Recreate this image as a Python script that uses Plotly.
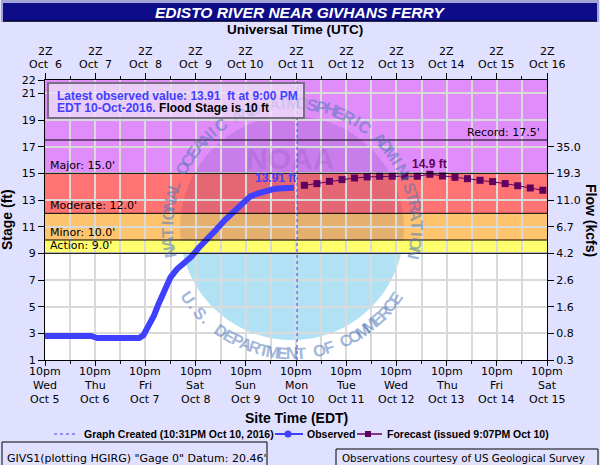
import math
import plotly.graph_objs as go

# observed stage (ft), site time EDT
obs_time = ['2016-10-05 22:00', '2016-10-06 10:00', '2016-10-06 20:00', '2016-10-06 23:00',
            '2016-10-07 10:00', '2016-10-07 19:00', '2016-10-07 21:00', '2016-10-07 23:00',
            '2016-10-08 00:00', '2016-10-08 02:00', '2016-10-08 04:00', '2016-10-08 06:00',
            '2016-10-08 08:00', '2016-10-08 10:00', '2016-10-08 13:00', '2016-10-08 16:00',
            '2016-10-08 20:00', '2016-10-09 00:00', '2016-10-09 04:00', '2016-10-09 08:00',
            '2016-10-09 12:00', '2016-10-09 16:00', '2016-10-09 20:00', '2016-10-10 00:00',
            '2016-10-10 04:00', '2016-10-10 08:00', '2016-10-10 12:00', '2016-10-10 16:00',
            '2016-10-10 21:00']
obs_stage = [2.8, 2.8, 2.8, 2.65, 2.65, 2.65, 2.85, 3.4, 3.75, 4.3, 5.1, 5.8, 6.6, 7.2,
             7.8, 8.15, 8.75, 9.5, 10.1, 10.8, 11.5, 12.1, 12.7, 13.25, 13.5, 13.7, 13.85,
             13.88, 13.91]

# forecast (issued 9:07PM Oct 10), 6-hourly
fcst_time = ['2016-10-11 02:00', '2016-10-11 08:00', '2016-10-11 14:00', '2016-10-11 20:00',
             '2016-10-12 02:00', '2016-10-12 08:00', '2016-10-12 14:00', '2016-10-12 20:00',
             '2016-10-13 02:00', '2016-10-13 08:00', '2016-10-13 14:00', '2016-10-13 20:00',
             '2016-10-14 02:00', '2016-10-14 08:00', '2016-10-14 14:00', '2016-10-14 20:00',
             '2016-10-15 02:00', '2016-10-15 08:00', '2016-10-15 14:00', '2016-10-15 20:00']
fcst_stage = [14.1, 14.23, 14.4, 14.53, 14.65, 14.73, 14.78, 14.78, 14.78, 14.78, 14.93,
              14.8, 14.7, 14.6, 14.48, 14.38, 14.23, 14.07, 13.9, 13.73]

graph_created = '2016-10-10 22:31'
x_range = ['2016-10-05 22:00', '2016-10-15 22:00']

site_tick_vals = ['2016-10-05 22:00', '2016-10-06 22:00', '2016-10-07 22:00', '2016-10-08 22:00',
                  '2016-10-09 22:00', '2016-10-10 22:00', '2016-10-11 22:00', '2016-10-12 22:00',
                  '2016-10-13 22:00', '2016-10-14 22:00', '2016-10-15 22:00']
site_hour = ['10pm'] * 11
site_day = ['Wed', 'Thu', 'Fri', 'Sat', 'Sun', 'Mon', 'Tue', 'Wed', 'Thu', 'Fri', 'Sat']
site_date = ['Oct 5', 'Oct 6', 'Oct 7', 'Oct 8', 'Oct 9', 'Oct 10', 'Oct 11', 'Oct 12',
             'Oct 13', 'Oct 14', 'Oct 15']
utc_hour = ['2Z'] * 11
utc_date = ['Oct\u00a0\u00a06', 'Oct\u00a0\u00a07', 'Oct\u00a0\u00a08', 'Oct\u00a0\u00a09',
            'Oct 10', 'Oct 11', 'Oct 12', 'Oct 13', 'Oct 14', 'Oct 15', 'Oct 16']

stage_ticks = [1, 3, 5, 7, 9, 11, 13, 15, 17, 19, 21, 22]
flow_ticks = [1, 3, 5, 7, 9, 11, 13, 15, 17]
flow_text = ['0.3', '0.8', '1.6', '2.6', '4.2', '6.7', '11.0', '19.3', '35.0']

# flood categories
cat_names = ['Action', 'Minor', 'Moderate', 'Major']
cat_low = [9.0, 10.0, 12.0, 15.0]
cat_high = [10.0, 12.0, 15.0, 22.0]
cat_colors = ['#FFFF6E', '#FFC46E', '#FF7373', '#E08CFA']
record_stage = 17.5
flood_stage = 10

BLUE = '#4040FF'
PURPLE = '#600060'
TICKFONT = dict(family='DejaVu Sans', size=11, color='black')
BOLD = 'Liberation Sans'

# plot area in pixels: x 45..547, y 80..360
L, R, T, B = 45, 547, 80, 360


def px(x):
    return (x - L) / (R - L)


def py(y):
    return (B - y) / (B - T)


def paper_text(x, y, text, size=11, color='black', family='DejaVu Sans', **kw):
    kw.setdefault('xanchor', 'center')
    kw.setdefault('yanchor', 'middle')
    return dict(xref='paper', yref='paper', x=px(x), y=py(y), text=text, showarrow=False,
                font=dict(family=family, size=size, color=color), **kw)


def date_label(x, y, text):
    return dict(xref='x', yref='paper', x=x, y=py(y), text=text, showarrow=False,
                xanchor='center', yanchor='middle', font=TICKFONT)


def arc_path(cx, cy, r, a0, a1, n=60):
    pts = []
    for i in range(n + 1):
        a = math.radians(a0 + (a1 - a0) * i / n)
        pts.append((px(cx + r * math.cos(a)), py(cy - r * math.sin(a))))
    return 'M ' + ' L '.join(f'{a:.4f},{b:.4f}' for a, b in pts) + ' Z'


fig = go.Figure()

fig.add_trace(go.Scatter(x=obs_time, y=obs_stage, mode='lines', name='Observed',
                         line=dict(color=BLUE, width=6), hoverinfo='skip'))
fig.add_trace(go.Scatter(x=fcst_time, y=fcst_stage, mode='lines+markers', name='Forecast',
                         line=dict(color=PURPLE, width=1),
                         marker=dict(symbol='square', size=7, color=PURPLE), hoverinfo='skip'))
# carries the UTC and flow axes
fig.add_trace(go.Scatter(x=fcst_time, y=fcst_stage, xaxis='x2', yaxis='y2', mode='markers',
                         marker=dict(opacity=0), hoverinfo='skip', showlegend=False))

shapes = []
for lo, hi, col in zip(cat_low, cat_high, cat_colors):
    shapes.append(dict(type='rect', xref='paper', yref='y', x0=0, x1=1, y0=lo, y1=hi,
                       fillcolor=col, line=dict(width=0), layer='below'))

# NOAA watermark
cx, cy, rad = 292, 228, 112
shapes.append(dict(type='path', xref='paper', yref='paper', layer='below',
                   path=arc_path(cx, cy, rad, -6.7, 186.7),
                   fillcolor='rgba(20,10,120,0.11)', line=dict(width=0)))
shapes.append(dict(type='path', xref='paper', yref='paper', layer='below',
                   path=arc_path(cx, cy, rad, 192.9, 347.1),
                   fillcolor='rgba(100,195,235,0.5)', line=dict(width=0)))

for lvl in cat_low + [record_stage]:
    shapes.append(dict(type='line', xref='paper', yref='y', x0=0, x1=1, y0=lvl, y1=lvl,
                       line=dict(color='black', width=1)))

shapes.append(dict(type='line', xref='x', yref='paper', x0=graph_created, x1=graph_created,
                   y0=0, y1=1, line=dict(color=BLUE, width=1, dash='3px,3px')))

# title bar
shapes.append(dict(type='rect', xref='paper', yref='paper', x0=px(1), x1=px(599), y0=py(0), y1=py(22),
                   fillcolor='#A4A4D4', line=dict(width=0)))
shapes.append(dict(type='rect', xref='paper', yref='paper', x0=px(3), x1=px(597), y0=py(3), y1=py(21),
                   fillcolor='#0D0D8A', line=dict(width=0)))
shapes.append(dict(type='line', xref='paper', yref='paper', x0=px(3), x1=px(597), y0=py(21), y1=py(21),
                   line=dict(color='#000030', width=1.5)))

# latest value box
box = (48, 304, 83, 118)
shapes.append(dict(type='rect', xref='paper', yref='paper', x0=px(box[0]), x1=px(box[1]),
                   y0=py(box[2]), y1=py(box[3]),
                   fillcolor='rgba(236,226,246,0.75)', line=dict(color='#7A6E86', width=2)))

# bottom legend samples
ly = 434
shapes.append(dict(type='line', xref='paper', yref='paper', x0=px(54), x1=px(78), y0=py(ly), y1=py(ly),
                   line=dict(color=BLUE, width=1, dash='3px,3px')))
shapes.append(dict(type='line', xref='paper', yref='paper', x0=px(275), x1=px(303), y0=py(ly), y1=py(ly),
                   line=dict(color=BLUE, width=2)))
shapes.append(dict(type='circle', xref='paper', yref='paper', x0=px(284.5), x1=px(291.5),
                   y0=py(ly + 3.5), y1=py(ly - 3.5), fillcolor=BLUE, line=dict(width=0)))
shapes.append(dict(type='line', xref='paper', yref='paper', x0=px(357), x1=px(382), y0=py(ly), y1=py(ly),
                   line=dict(color=PURPLE, width=1.5)))
shapes.append(dict(type='rect', xref='paper', yref='paper', x0=px(365), x1=px(371),
                   y0=py(ly + 3), y1=py(ly - 3), fillcolor=PURPLE, line=dict(width=0)))

# footer boxes
shapes.append(dict(type='rect', xref='paper', yref='paper', x0=px(2), x1=px(267), y0=py(442), y1=py(470),
                   fillcolor='rgba(0,0,0,0)', line=dict(color='black', width=1)))
shapes.append(dict(type='rect', xref='paper', yref='paper', x0=px(336), x1=px(598), y0=py(449), y1=py(470),
                   fillcolor='rgba(0,0,0,0)', line=dict(color='black', width=1)))

ann = []

# watermark ring text (fainter where it sits under the value box)
top_txt = 'NATIONAL OCEANIC AND ATMOSPHERIC ADMINISTRATION'
bot_txt = 'U.S. DEPARTMENT OF COMMERCE'


def ring_letter(ch, a, textangle):
    ar = math.radians(a)
    x, y = cx + 125 * math.cos(ar), cy - 125 * math.sin(ar)
    hidden = box[0] < x < box[1] and y < box[3] + 4
    col = 'rgba(80,120,185,0.15)' if hidden else 'rgba(80,120,185,0.55)'
    return paper_text(x, y, '<b>' + ch + '</b>', size=16.5, color=col, family=BOLD,
                      textangle=textangle)


for i, ch in enumerate(top_txt):
    if ch != ' ':
        a = 191 - i * 203 / (len(top_txt) - 1)
        ann.append(ring_letter(ch, a, 90 - a))
for i, ch in enumerate(bot_txt):
    if ch != ' ':
        a = 214 + i * 112 / (len(bot_txt) - 1)
        ann.append(ring_letter(ch, a, 270 - a))
ann.append(paper_text(290, 158, '<b>NOAA</b>', size=30, color='rgba(60,40,150,0.14)', family=BOLD))

# axis date labels, one annotation per line
for xv, h, d, dt in zip(site_tick_vals, site_hour, site_day, site_date):
    ann.append(date_label(xv, 371, h))
    ann.append(date_label(xv, 385, d))
    ann.append(date_label(xv, 399, dt))
for xv, h, dt in zip(site_tick_vals, utc_hour, utc_date):
    ann.append(date_label(xv, 51.5, h))
    ann.append(date_label(xv, 65, dt))

# flood category labels
for name, lo in zip(cat_names, cat_low):
    ann.append(dict(xref='paper', yref='y', x=px(48), y=lo, text=f"{name}: {lo:.1f}'", showarrow=False,
                    xanchor='left', yanchor='bottom', yshift=-1, font=TICKFONT))
ann.append(dict(xref='paper', yref='y', x=px(542), y=record_stage, text=f"Record: {record_stage}'",
                showarrow=False, xanchor='right', yanchor='bottom', yshift=-1, font=TICKFONT))

# value labels
ann.append(dict(x=obs_time[-1], y=obs_stage[-1], text=f'<b>{obs_stage[-1]:.2f} ft</b>', showarrow=False,
                xanchor='right', yanchor='middle', xshift=4, yshift=10,
                font=dict(family=BOLD, size=12, color=BLUE)))
pk = fcst_stage.index(max(fcst_stage))
ann.append(dict(x=fcst_time[pk], y=fcst_stage[pk], text=f'<b>{fcst_stage[pk]:.1f} ft</b>', showarrow=False,
                xanchor='center', yanchor='middle', yshift=10,
                font=dict(family=BOLD, size=12, color=PURPLE)))

# latest observed box text
ann.append(paper_text(55, 95.5, f'<b>Latest observed value: {obs_stage[-1]:.2f}\u00a0 ft at 9:00 PM</b>',
                      size=12, color=BLUE, family=BOLD, xanchor='left'))
ann.append(paper_text(55, 107.5, f'<b>EDT 10-Oct-2016. <span style="color:black">Flood Stage is '
                                 f'{flood_stage} ft</span></b>',
                      size=12, color=BLUE, family=BOLD, xanchor='left'))

# titles
ann.append(paper_text(300, 12.5, '<b><i>EDISTO RIVER NEAR GIVHANS FERRY</i></b>', size=15.5,
                      color='white', family=BOLD))
ann.append(paper_text(295, 30, '<b>Universal Time (UTC)</b>', size=13.5, family=BOLD))
ann.append(paper_text(296, 418, '<b>Site Time (EDT)</b>', size=14, family=BOLD))
ann.append(paper_text(7, 220, '<b>Stage (ft)</b>', size=14, family=BOLD, textangle=-90))
ann.append(paper_text(591, 220, '<b>Flow (kcfs)</b>', size=14, family=BOLD, textangle=90))

# legend text
ann.append(paper_text(82, ly, '<b>Graph Created (10:31PM Oct 10, 2016)</b>', size=10.5, family=BOLD,
                      xanchor='left'))
ann.append(paper_text(305, ly, '<b>Observed</b>', size=10.5, family=BOLD, xanchor='left'))
ann.append(paper_text(385, ly, '<b>Forecast (issued 9:07PM Oct 10)</b>', size=10.5, family=BOLD,
                      xanchor='left'))

# footer text
ann.append(paper_text(5, 458, 'GIVS1(plotting HGIRG) "Gage 0" Datum: 20.46\'', size=11, xanchor='left'))
ann.append(paper_text(340, 458, 'Observations courtesy of US Geological Survey', size=10.3, xanchor='left'))

minor_ticks = dict(tickmode='linear', tick0='2016-10-05 10:00', dtick=43200000,
                   ticks='outside', ticklen=3, tickcolor='black')

fig.update_layout(
    width=600, height=465, autosize=False,
    margin=dict(l=L, r=600 - R, t=T, b=465 - B, pad=0),
    paper_bgcolor='#E0E0FF', plot_bgcolor='white',
    showlegend=False,
    shapes=shapes, annotations=ann,
    xaxis=dict(type='date', range=x_range, tickmode='array', tickvals=site_tick_vals,
               showticklabels=False, ticks='outside', ticklen=5, tickcolor='black',
               showline=True, linecolor='black', linewidth=1,
               showgrid=True, gridcolor='#DADADA', gridwidth=1.5, zeroline=False,
               minor=dict(minor_ticks, showgrid=True, gridcolor='#DADADA', gridwidth=1.5)),
    xaxis2=dict(type='date', overlaying='x', side='top', range=x_range, tickmode='array',
                tickvals=site_tick_vals, showticklabels=False, ticks='outside', ticklen=6,
                tickcolor='black', showline=True, linecolor='black', linewidth=1,
                showgrid=False, zeroline=False, minor=dict(minor_ticks, showgrid=False)),
    yaxis=dict(range=[1, 22], tickmode='array', tickvals=stage_ticks, ticks='outside', ticklen=6,
               tickcolor='black', showline=True, linecolor='black', linewidth=1,
               tickfont=TICKFONT, showgrid=True, gridcolor='#DADADA', gridwidth=1.5, zeroline=False),
    yaxis2=dict(range=[1, 22], overlaying='y', side='right', tickmode='array', tickvals=flow_ticks,
                ticktext=flow_text, ticks='outside', ticklen=6, tickcolor='black', showline=True,
                linecolor='black', linewidth=1, tickfont=TICKFONT, showgrid=False, zeroline=False),
)

# page margin off so the figure sits at the window's top-left corner
fig.write_html("out.html", config={'displayModeBar': False},
               post_script="document.body.style.margin='0';")
